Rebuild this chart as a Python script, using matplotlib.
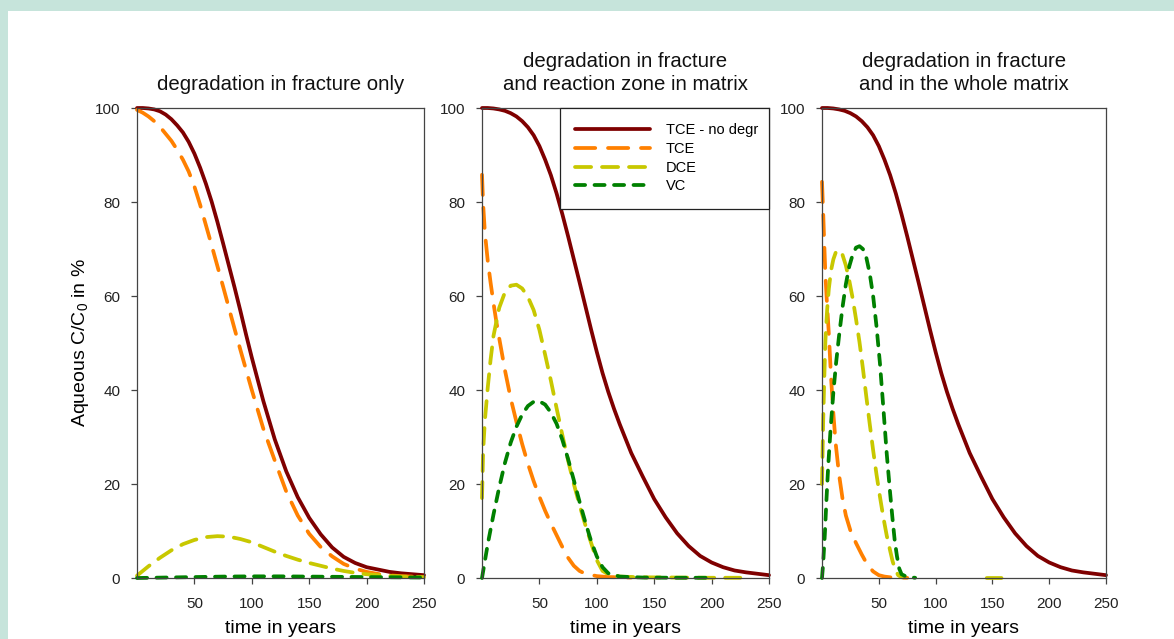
import matplotlib
matplotlib.use("Agg")
import matplotlib.pyplot as plt
import numpy as np

plt.rcParams['font.family'] = ['Liberation Sans', 'DejaVu Sans']
plt.rcParams['mathtext.default'] = 'regular'

# panel 1: degradation in fracture only
t1_nodegr = [0, 5, 10, 15, 20, 25, 30, 35, 40, 45, 50, 55, 60, 65, 70, 75, 80, 85, 90, 95, 100,
             110, 120, 130, 140, 150, 160, 170, 180, 190, 200, 210, 220, 230, 240, 250]
v1_nodegr = [100, 100, 99.9, 99.7, 99.3, 98.6, 97.6, 96.3, 94.8, 92.8, 90.3, 87.3, 83.9, 80.1, 75.8,
             71.2, 66.5, 61.8, 56.9, 51.8, 46.9, 37.7, 29.5, 22.7, 17.2, 12.8, 9.3, 6.5, 4.5, 3.2,
             2.3, 1.8, 1.3, 1.0, 0.8, 0.6]
t1_tce = [0, 5, 10, 15, 20, 25, 30, 35, 40, 45, 50, 55, 60, 65, 70, 75, 80, 85, 90, 95, 100,
          110, 120, 130, 140, 150, 160, 170, 180, 190, 200, 210, 220, 230, 240, 250]
v1_tce = [99.6, 99, 98.2, 97.2, 96, 94.5, 93, 91.1, 89, 86.5, 83.3, 79.4, 75.1, 70.8, 66.4, 62,
          57.5, 53, 48.6, 44.3, 40, 31.8, 25, 18.4, 13.3, 9.4, 6.6, 4.6, 3.0, 2.0, 1.3, 0.85,
          0.55, 0.4, 0.3, 0.2]
t1_dce = [0, 10, 20, 30, 40, 50, 60, 70, 80, 90, 100, 110, 120, 130, 140, 150, 160, 170, 180,
          190, 200, 210, 220, 230, 240, 250]
v1_dce = [0.5, 2.5, 4.3, 5.9, 7.2, 8.1, 8.7, 8.9, 8.8, 8.3, 7.6, 6.6, 5.6, 4.7, 3.9, 3.2, 2.6,
          2.0, 1.5, 1.1, 0.8, 0.6, 0.45, 0.3, 0.25, 0.2]
t1_vc = [0, 25, 50, 75, 100, 125, 150, 175, 200, 225, 250]
v1_vc = [0, 0.1, 0.2, 0.3, 0.35, 0.35, 0.3, 0.25, 0.2, 0.15, 0.1]

# panels 2 and 3 share the no-degradation curve
t23_nodegr = [0, 5, 10, 15, 20, 25, 30, 35, 40, 45, 50, 55, 60, 65, 70, 75, 80, 85, 90, 95, 100,
              105, 110, 115, 120, 130, 140, 150, 160, 170, 180, 190, 200, 210, 220, 230, 240, 250]
v23_nodegr = [100, 100, 99.9, 99.7, 99.4, 98.9, 98.2, 97.2, 95.9, 94.2, 91.9, 89, 85.7, 81.8, 77.4,
              72.7, 67.8, 62.9, 57.9, 52.9, 48.1, 43.6, 39.6, 36, 32.7, 26.6, 21.6, 16.8, 12.9,
              9.5, 6.8, 4.7, 3.3, 2.3, 1.6, 1.2, 0.9, 0.6]

# panel 2: degradation in fracture and reaction zone in matrix
t2_tce = [0, 1, 2.5, 5, 7.5, 10, 12.5, 15, 20, 25, 30, 35, 40, 45, 50, 55, 60, 65, 70, 75, 80,
          85, 90, 100, 110, 130]
v2_tce = [85.8, 79.5, 73.5, 67.5, 62.8, 58.5, 54.5, 51, 44.2, 38.2, 33.2, 28.5, 24.3, 20.6, 17.3,
          14.3, 11.6, 9.1, 6.6, 4.3, 2.6, 1.5, 0.9, 0.4, 0.2, 0.1]
t2_dce = [0, 1, 2.5, 5, 7.5, 10, 15, 20, 25, 30, 35, 40, 45, 50, 55, 60, 65, 70, 75, 80, 85, 90,
          95, 100, 105, 110, 120, 140, 170, 200, 225]
v2_dce = [17, 27, 33.5, 40.5, 46.5, 51.5, 57.5, 60.8, 62.2, 62.4, 61.6, 59.8, 57, 52.8, 47.5, 42,
          36.1, 30.4, 25, 20, 15.5, 11.3, 7.5, 3.8, 1.5, 0.8, 0.3, 0.15, 0.1, 0.05, 0.05]
t2_vc = [0, 5, 10, 15, 20, 25, 30, 35, 40, 45, 50, 55, 60, 65, 70, 75, 80, 85, 90, 95, 100, 105,
         110, 120, 140, 170, 196]
v2_vc = [0, 7.2, 13.5, 19.3, 24.5, 28.8, 32.2, 34.8, 36.6, 37.5, 37.6, 36.9, 35.2, 32.8, 29.4,
         25.3, 20.8, 16.2, 11.9, 7.9, 4.6, 2.3, 1.0, 0.3, 0.1, 0.05, 0.05]

# panel 3: degradation in fracture and in the whole matrix
t3_tce = [0, 1, 2, 3, 4, 5, 6, 8, 10, 12, 15, 18, 21, 25, 30, 35, 40, 45, 50, 55, 60, 65, 75]
v3_tce = [84.3, 78, 71, 64.5, 60, 56, 52, 42.5, 35, 28.7, 22, 17, 13.3, 10.1, 7.4, 5.0, 2.8, 1.4,
          0.6, 0.3, 0.15, 0.1, 0.05]
t3_dce = [0, 1, 2, 3, 4.5, 6, 8, 10, 12, 14, 16, 18, 21, 24, 27, 30, 33, 36, 39, 42, 45, 48, 51,
          54, 57, 60, 62, 64, 67, 70, np.nan, 145, 158]
v3_dce = [20, 33, 42.5, 50.5, 57, 61.5, 65.5, 67.8, 69.2, 69.8, 69.6, 68.8, 66.5, 63.3, 59.5, 55,
          50.2, 44.6, 38.6, 32.8, 27.2, 22, 17.3, 12.9, 9, 5.8, 3.7, 2.1, 0.6, 0.15, np.nan, 0, 0]
t3_vc = [0, 1, 2.5, 4, 5.5, 7.5, 10, 12.5, 15, 18, 21, 24, 27, 30, 33, 36, 39, 42, 45, 48, 51, 54,
         57, 60, 62, 64, 66, 68, 70, 75, 82]
v3_vc = [0, 3, 9.3, 17, 24, 31.5, 39.5, 46, 51.5, 57.5, 62.5, 66.3, 68.8, 70.3, 70.6, 70, 68.2,
         64.8, 60, 53.5, 45.7, 36.2, 26.4, 18, 12.8, 8, 4.6, 2, 0.8, 0.2, 0.05]

titles = ['degradation in fracture only',
          'degradation in fracture\nand reaction zone in matrix',
          'degradation in fracture\nand in the whole matrix']
labels = ['TCE - no degr', 'TCE', 'DCE', 'VC']
colors = ['#7f0000', '#ff8000', '#c8c800', '#008000']
dashes = [None, (5.4, 3.4), (4.3, 2.9), (2.7, 2.5)]

panels = [
    [(t1_nodegr, v1_nodegr), (t1_tce, v1_tce), (t1_dce, v1_dce), (t1_vc, v1_vc)],
    [(t23_nodegr, v23_nodegr), (t2_tce, v2_tce), (t2_dce, v2_dce), (t2_vc, v2_vc)],
    [(t23_nodegr, v23_nodegr), (t3_tce, v3_tce), (t3_dce, v3_dce), (t3_vc, v3_vc)],
]

fig = plt.figure(figsize=(11.74, 6.39), dpi=100)
fig.patch.set_facecolor('#c6e4db')
fig.add_artist(plt.Rectangle((8 / 1174, 0), 1, 1 - 11 / 639, transform=fig.transFigure,
                             facecolor='white', edgecolor='none', zorder=0))

lefts = [137 / 1174, 482 / 1174, 822 / 1174]
widths = [287 / 1174, 287 / 1174, 284 / 1174]
bottom = 1 - 578 / 639
height = (578 - 108) / 639

axes = []
for i in range(3):
    ax = fig.add_axes([lefts[i], bottom, widths[i], height])
    ax.set_facecolor('white')
    for j, (t, v) in enumerate(panels[i]):
        line, = ax.plot(t, v, color=colors[j], lw=2.7, label=labels[j], clip_on=False,
                        solid_capstyle='round', dash_capstyle='round')
        if dashes[j] is not None:
            line.set_dashes(dashes[j])
    ax.set_xlim(0, 250)
    ax.set_ylim(0, 100)
    ax.set_xticks([50, 100, 150, 200, 250])
    ax.set_yticks([0, 20, 40, 60, 80, 100])
    ax.tick_params(direction='out', length=4.5, width=0.9, color='#444444',
                   labelsize=11, labelcolor='#222222')
    ax.tick_params(axis='x', pad=9)
    ax.tick_params(axis='y', pad=7.5)
    for s in ax.spines.values():
        s.set_color('#444444')
        s.set_linewidth(0.9)
    ax.set_xlabel('time in years', fontsize=14, labelpad=6.5)
    ax.set_title(titles[i], fontsize=14.7, pad=13, linespacing=1.25, color='#111111')
    axes.append(ax)

axes[0].set_ylabel('Aqueous C/C$_0$ in %', fontsize=14, labelpad=3)

leg = axes[1].legend(loc='upper left', bbox_to_anchor=(0.272, 0.787, 0.728, 0.213),
                     mode='expand', borderaxespad=0, fontsize=10.5, handlelength=5.1,
                     handletextpad=1.1, labelspacing=0.32, borderpad=1.05, fancybox=False,
                     framealpha=1, edgecolor='#222222')
leg.get_frame().set_linewidth(0.9)

fig.savefig('out.png', dpi=100, facecolor=fig.get_facecolor())
